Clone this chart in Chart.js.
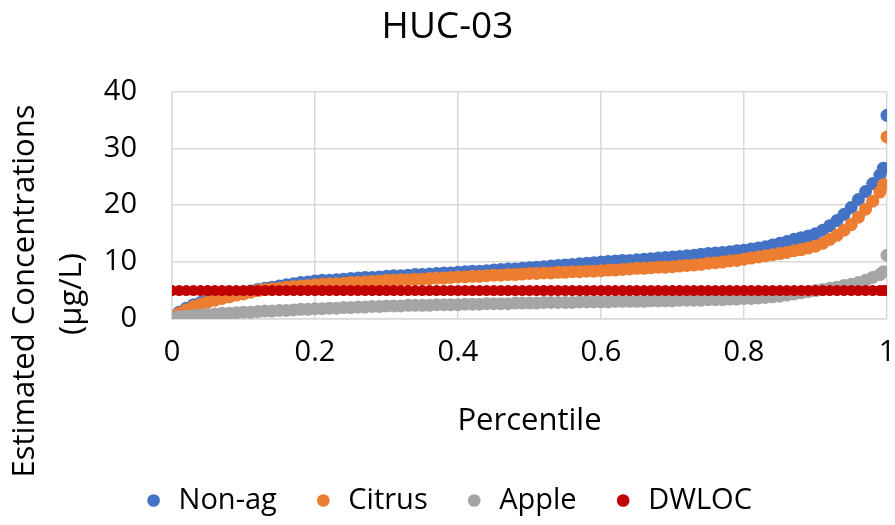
<!DOCTYPE html>
<html>
<head>
<meta charset="utf-8">
<script src="https://cdn.jsdelivr.net/npm/chart.js@4.4.0/dist/chart.umd.min.js"></script>
<style>
  html, body { margin: 0; padding: 0; background: #fff; }
  #chart { display: block; }
</style>
</head>
<body>
<canvas id="chart" width="895" height="525"></canvas>
<script>
// percentile positions of the plotted points
const percentiles = [
  0, 0.01, 0.02, 0.03, 0.04, 0.05, 0.06, 0.07, 0.08, 0.09,
  0.10, 0.11, 0.12, 0.13, 0.14, 0.15, 0.16, 0.17, 0.18, 0.19,
  0.20, 0.21, 0.22, 0.23, 0.24, 0.25, 0.26, 0.27, 0.28, 0.29,
  0.30, 0.31, 0.32, 0.33, 0.34, 0.35, 0.36, 0.37, 0.38, 0.39,
  0.40, 0.41, 0.42, 0.43, 0.44, 0.45, 0.46, 0.47, 0.48, 0.49,
  0.50, 0.51, 0.52, 0.53, 0.54, 0.55, 0.56, 0.57, 0.58, 0.59,
  0.60, 0.61, 0.62, 0.63, 0.64, 0.65, 0.66, 0.67, 0.68, 0.69,
  0.70, 0.71, 0.72, 0.73, 0.74, 0.75, 0.76, 0.77, 0.78, 0.79,
  0.80, 0.81, 0.82, 0.83, 0.84, 0.85, 0.86, 0.87, 0.88, 0.89,
  0.90, 0.91, 0.92, 0.93, 0.94, 0.95, 0.96, 0.97, 0.98, 0.99,
  0.995, 1
];

const nonAgValues = [
  0.3, 1.2, 1.9, 2.5, 2.9, 3.3, 3.6, 3.9, 4.2, 4.5,
  4.7, 4.9, 5.2, 5.4, 5.6, 5.8, 6.0, 6.2, 6.4, 6.5,
  6.7, 6.8, 6.8, 6.9, 7.0, 7.1, 7.2, 7.3, 7.3, 7.4,
  7.5, 7.6, 7.6, 7.7, 7.8, 7.8, 7.9, 8.0, 8.1, 8.1,
  8.2, 8.3, 8.4, 8.4, 8.5, 8.6, 8.7, 8.8, 8.8, 8.9,
  9.0, 9.1, 9.2, 9.3, 9.4, 9.5, 9.6, 9.7, 9.8, 9.9,
  10.0, 10.1, 10.2, 10.3, 10.3, 10.4, 10.5, 10.6, 10.7, 10.8,
  10.9, 11.0, 11.1, 11.2, 11.4, 11.5, 11.6, 11.7, 11.8, 12.0,
  12.1, 12.3, 12.5, 12.7, 13.0, 13.3, 13.6, 14.0, 14.3, 14.6,
  15.0, 15.6, 16.4, 17.3, 18.4, 19.6, 21.0, 22.4, 23.8, 25.3,
  26.5, 35.8
];

const citrusValues = [
  0.2, 1.0, 1.6, 2.2, 2.6, 3.0, 3.3, 3.6, 3.9, 4.2,
  4.4, 4.7, 5.0, 5.2, 5.3, 5.4, 5.6, 5.7, 5.8, 5.9,
  6.0, 6.1, 6.2, 6.2, 6.3, 6.4, 6.4, 6.5, 6.6, 6.7,
  6.8, 6.8, 6.9, 6.9, 7.0, 7.0, 7.1, 7.2, 7.2, 7.3,
  7.4, 7.4, 7.5, 7.5, 7.6, 7.7, 7.7, 7.8, 7.8, 7.9,
  8.0, 8.0, 8.1, 8.1, 8.2, 8.2, 8.3, 8.3, 8.4, 8.4,
  8.5, 8.6, 8.6, 8.7, 8.8, 8.9, 8.9, 9.0, 9.1, 9.1,
  9.2, 9.3, 9.4, 9.5, 9.6, 9.8, 9.9, 10.0, 10.2, 10.3,
  10.5, 10.7, 10.9, 11.1, 11.3, 11.5, 11.7, 12.0, 12.2, 12.5,
  12.8, 13.3, 14.0, 14.7, 15.6, 16.6, 17.9, 19.3, 20.7, 22.3,
  23.6, 32.0
];

const appleValues = [
  0.2, 0.4, 0.5, 0.6, 0.7, 0.8, 0.9, 1.0, 1.0, 1.1,
  1.2, 1.2, 1.3, 1.4, 1.4, 1.5, 1.5, 1.6, 1.7, 1.7,
  1.8, 1.8, 1.9, 1.9, 2.0, 2.0, 2.1, 2.1, 2.2, 2.2,
  2.3, 2.3, 2.3, 2.4, 2.4, 2.4, 2.4, 2.5, 2.5, 2.5,
  2.5, 2.6, 2.6, 2.6, 2.7, 2.7, 2.7, 2.7, 2.8, 2.8,
  2.8, 2.8, 2.9, 2.9, 2.9, 2.9, 2.9, 3.0, 3.0, 3.0,
  3.0, 3.0, 3.1, 3.1, 3.1, 3.1, 3.1, 3.2, 3.2, 3.2,
  3.2, 3.3, 3.3, 3.3, 3.3, 3.4, 3.4, 3.4, 3.5, 3.5,
  3.6, 3.6, 3.7, 3.8, 3.9, 4.0, 4.2, 4.4, 4.6, 4.8,
  5.0, 5.2, 5.4, 5.6, 5.9, 6.1, 6.4, 6.8, 7.3, 7.8,
  8.3, 11.2
];

const dwlocValues = [
  5, 5, 5, 5, 5, 5, 5, 5, 5, 5,
  5, 5, 5, 5, 5, 5, 5, 5, 5, 5,
  5, 5, 5, 5, 5, 5, 5, 5, 5, 5,
  5, 5, 5, 5, 5, 5, 5, 5, 5, 5,
  5, 5, 5, 5, 5, 5, 5, 5, 5, 5,
  5, 5, 5, 5, 5, 5, 5, 5, 5, 5,
  5, 5, 5, 5, 5, 5, 5, 5, 5, 5,
  5, 5, 5, 5, 5, 5, 5, 5, 5, 5,
  5, 5, 5, 5, 5, 5, 5, 5, 5, 5,
  5, 5, 5, 5, 5, 5, 5, 5, 5, 5,
  5, 5
];

const seriesNames = ["Non-ag", "Citrus", "Apple", "DWLOC"];
const seriesColors = ["#4472C4", "#ED7D31", "#A5A5A5", "#C00000"];
const yTitleLines = ["Estimated Concentrations", "(µg/L)"];

const FONT = "'Open Sans', Lato, sans-serif";

function toPoints(values) {
    return values.map((v, i) => ({ x: percentiles[i], y: v }));
}

// y axis title drawn by hand so it sits lower than the plot centre, like the original
const yTitlePlugin = {
    id: "yTitle",
    afterDraw(chart) {
        const ctx = chart.ctx;
        ctx.save();
        ctx.fillStyle = "#000";
        ctx.font = `31px ${FONT}`;
        ctx.textAlign = "center";
        ctx.textBaseline = "middle";
        [[25, 291], [72, 294]].forEach(([x, y], i) => {
            ctx.save();
            ctx.translate(x, y);
            ctx.rotate(-Math.PI / 2);
            ctx.fillText(yTitleLines[i], 0, 0);
            ctx.restore();
        });
        ctx.restore();
    }
};

const allValues = [nonAgValues, citrusValues, appleValues, dwlocValues];

new Chart(document.getElementById("chart"), {
    type: "scatter",
    data: {
        datasets: seriesNames.map((name, i) => ({
            label: name,
            data: toPoints(allValues[i]),
            backgroundColor: seriesColors[i],
            borderColor: seriesColors[i],
            pointRadius: i === 3 ? 5.5 : 6.5,
            pointHoverRadius: i === 3 ? 5.5 : 6.5,
            pointBorderWidth: 0,
            order: 4 - i
        }))
    },
    options: {
        responsive: false,
        animation: false,
        layout: { padding: 0 },
        plugins: {
            tooltip: { enabled: false },
            title: {
                display: true,
                text: "HUC-03",
                color: "#000",
                font: { family: FONT, size: 37, weight: "normal" },
                padding: { top: 5, bottom: 42 }
            },
            legend: {
                position: "bottom",
                labels: {
                    color: "#000",
                    font: { family: FONT, size: 29 },
                    usePointStyle: true,
                    pointStyle: "circle",
                    boxWidth: 21,
                    boxHeight: 9,
                    padding: 36,
                    sort: (a, b) => a.datasetIndex - b.datasetIndex
                }
            }
        },
        scales: {
            x: {
                type: "linear",
                min: 0,
                max: 1,
                afterFit: (scale) => {
                    scale.height = 131;
                    scale.paddingRight = 8;
                },
                ticks: {
                    stepSize: 0.2,
                    color: "#000",
                    padding: 16,
                    font: { family: FONT, size: 29 },
                    callback: (v) => String(Number(v.toFixed(1)))
                },
                grid: { color: "#d9d9d9", lineWidth: 1.5, drawTicks: false },
                border: { color: "#d9d9d9", width: 1.5 },
                title: {
                    display: true,
                    text: "Percentile",
                    color: "#000",
                    font: { family: FONT, size: 31 },
                    padding: { top: 0, bottom: 10 }
                }
            },
            y: {
                min: 0,
                max: 40,
                afterFit: (scale) => { scale.width = 172; },
                ticks: {
                    stepSize: 10,
                    color: "#000",
                    padding: 35,
                    font: { family: FONT, size: 29 }
                },
                grid: { color: "#d9d9d9", lineWidth: 1.5, drawTicks: false },
                border: { color: "#d9d9d9", width: 1.5 }
            }
        }
    },
    plugins: [yTitlePlugin]
});
</script>
</body>
</html>
